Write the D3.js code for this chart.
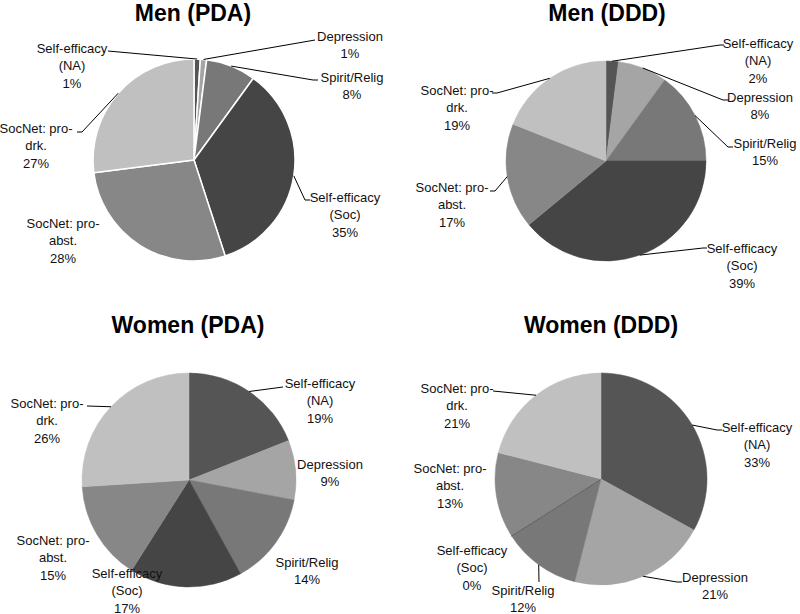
<!DOCTYPE html>
<html>
<head>
<meta charset="utf-8">
<script src="https://cdn.jsdelivr.net/npm/d3@7"></script>
<style>
  html, body { margin: 0; padding: 0; background: #ffffff; }
  svg { display: block; }
</style>
</head>
<body>
<svg id="chart" width="800" height="614"></svg>
<script>
// ---------- DATA ----------
const categories = ["Self-efficacy (NA)", "Depression", "Spirit/Relig", "Self-efficacy (Soc)", "SocNet: pro-abst.", "SocNet: pro-drk."];
const labelLines = [["Self-efficacy", "(NA)"], ["Depression"], ["Spirit/Relig"], ["Self-efficacy", "(Soc)"], ["SocNet: pro-", "abst."], ["SocNet: pro-", "drk."]];
const titles = ["Men (PDA)", "Men (DDD)", "Women (PDA)", "Women (DDD)"];
const menPDA = [1, 1, 8, 35, 28, 27];
const menDDD = [2, 8, 15, 39, 17, 19];
const womenPDA = [19, 9, 14, 17, 15, 26];
const womenDDD = [33, 21, 12, 0, 13, 21];
const seriesList = [menPDA, menDDD, womenPDA, womenDDD];

// ---------- STYLE / LAYOUT ----------
const sliceColors = ["#555555", "#a5a5a5", "#787878", "#454545", "#878787", "#c0c0c0"];
const layouts = [
  { cx: 194, cy: 160, r: 101, border: true, titleX: 193, titleY: 21,
    labels: [
      { x: 72, y: 48, lead: [[108, 51]] },
      { x: 350, y: 36, lead: [[315, 40]] },
      { x: 352, y: 77, lead: [[313, 80], [318, 80]] },
      { x: 345, y: 197, lead: [[305, 200], [310, 200]] },
      { x: 63, y: 223, lead: null },
      { x: 36, y: 128, lead: [[82, 132], [77, 132]] }
    ] },
  { cx: 606, cy: 161, r: 100, border: false, titleX: 607, titleY: 21,
    labels: [
      { x: 758, y: 43, lead: [[720, 45], [724, 45]] },
      { x: 760, y: 97, lead: [[723, 100], [729, 100]] },
      { x: 765, y: 143, lead: [[728, 147], [733, 147]] },
      { x: 742, y: 248, lead: [[703, 248], [707, 248]] },
      { x: 452, y: 187, lead: [[495, 191], [490, 191]] },
      { x: 457, y: 90, lead: [[497, 93], [492, 93]] }
    ] },
  { cx: 189, cy: 480, r: 107, border: false, titleX: 188, titleY: 333,
    labels: [
      { x: 320, y: 383, lead: [[283, 387]] },
      { x: 330, y: 464, lead: null },
      { x: 307, y: 562, lead: null },
      { x: 127, y: 573, lead: null },
      { x: 53, y: 540, lead: null },
      { x: 47, y: 403, lead: [[87, 406]] }
    ] },
  { cx: 601, cy: 479, r: 106, border: false, titleX: 601, titleY: 333,
    labels: [
      { x: 757, y: 427, lead: [[717, 430], [722, 430]] },
      { x: 715, y: 577, lead: [[677, 582], [682, 582]] },
      { x: 523, y: 590, lead: [[539, 582]] },
      { x: 472, y: 550, lead: null },
      { x: 450, y: 468, lead: null },
      { x: 457, y: 388, lead: [[493, 391]] }
    ] }
];

const svg = d3.select("#chart");
const color = d3.scaleOrdinal().domain(categories).range(sliceColors);
const pie = d3.pie().sort(null).value(d => d.value);
const fontFamily = "'Liberation Sans', Arial, sans-serif";
const lineH = 17.5;

seriesList.forEach((values, i) => {
  const L = layouts[i];
  const data = categories.map((c, k) => ({ cat: c, idx: k, value: values[k] }));
  const arcs = pie(data);
  const arc = d3.arc().innerRadius(0).outerRadius(L.r);

  // title
  svg.append("text")
    .attr("x", L.titleX).attr("y", L.titleY)
    .attr("text-anchor", "middle")
    .attr("font-family", fontFamily)
    .attr("font-weight", "bold")
    .attr("font-size", 23)
    .attr("fill", "#000")
    .text(titles[i]);

  const g = svg.append("g").attr("transform", `translate(${L.cx},${L.cy})`);
  g.selectAll("path.slice")
    .data(arcs)
    .join("path")
    .attr("class", "slice")
    .attr("d", arc)
    .attr("fill", d => color(d.data.cat))
    .attr("stroke", d => L.border ? "#ffffff" : color(d.data.cat))
    .attr("stroke-width", d => L.border ? 1.5 : (d.data.value === 0 ? 1 : 0.5))
    .attr("stroke-linejoin", "round");

  // leader lines
  arcs.forEach(a => {
    const lab = L.labels[a.data.idx];
    if (!lab.lead) return;
    const mid = (a.startAngle + a.endAngle) / 2;
    const px = L.cx + L.r * Math.sin(mid);
    const py = L.cy - L.r * Math.cos(mid);
    const pts = [[px, py]].concat(lab.lead);
    svg.append("path")
      .attr("d", d3.line()(pts))
      .attr("fill", "none")
      .attr("stroke", "#000")
      .attr("stroke-width", 1);
  });

  // labels
  arcs.forEach(a => {
    const lab = L.labels[a.data.idx];
    const lines = labelLines[a.data.idx].concat([a.data.value + "%"]);
    const t = svg.append("text")
      .attr("text-anchor", "middle")
      .attr("font-family", fontFamily)
      .attr("font-size", 13)
      .attr("fill", "#111");
    lines.forEach((ln, j) => {
      t.append("tspan")
        .attr("x", lab.x)
        .attr("y", lab.y + 4.5 + j * lineH)
        .text(ln);
    });
  });
});
</script>
</body>
</html>
